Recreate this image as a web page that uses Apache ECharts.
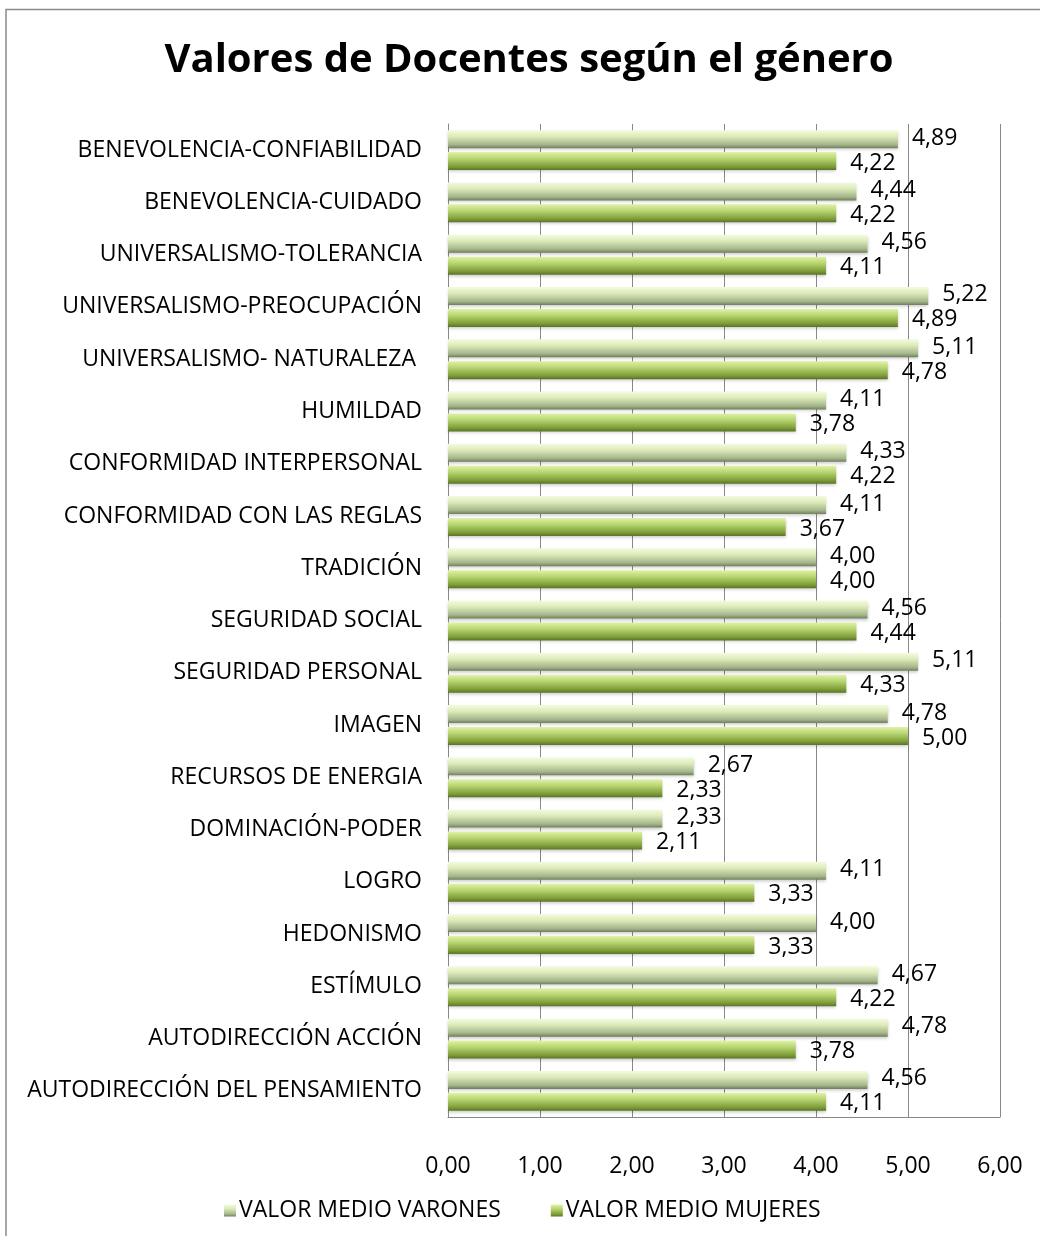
<!DOCTYPE html>
<html>
<head>
<meta charset="utf-8">
<script src="https://cdn.jsdelivr.net/npm/echarts@6/dist/echarts.min.js"></script>
<style>
  html, body { margin: 0; padding: 0; background: #fff; }
  #chart { width: 1040px; height: 1236px; }
</style>
</head>
<body>
<div id="chart"></div>
<script>
// categories top to bottom, as in the picture
const categories = [
  "BENEVOLENCIA-CONFIABILIDAD",
  "BENEVOLENCIA-CUIDADO",
  "UNIVERSALISMO-TOLERANCIA",
  "UNIVERSALISMO-PREOCUPACIÓN",
  "UNIVERSALISMO- NATURALEZA ",
  "HUMILDAD",
  "CONFORMIDAD INTERPERSONAL",
  "CONFORMIDAD CON LAS REGLAS",
  "TRADICIÓN",
  "SEGURIDAD SOCIAL",
  "SEGURIDAD PERSONAL",
  "IMAGEN",
  "RECURSOS DE ENERGIA",
  "DOMINACIÓN-PODER",
  "LOGRO",
  "HEDONISMO",
  "ESTÍMULO",
  "AUTODIRECCIÓN ACCIÓN",
  "AUTODIRECCIÓN DEL PENSAMIENTO"
];
const varones = [4.89, 4.44, 4.56, 5.22, 5.11, 4.11, 4.33, 4.11, 4.00, 4.56, 5.11, 4.78, 2.67, 2.33, 4.11, 4.00, 4.67, 4.78, 4.56];
const mujeres = [4.22, 4.22, 4.11, 4.89, 4.78, 3.78, 4.22, 3.67, 4.00, 4.44, 4.33, 5.00, 2.33, 2.11, 3.33, 3.33, 4.22, 3.78, 4.11];

const FONT = "Open Sans";
const SIZE = 23;
const fmt = v => v.toFixed(2).replace(".", ",");

const gradVarones = new echarts.graphic.LinearGradient(0, 0, 0, 1, [
  { offset: 0, color: "#f4fbe0" },
  { offset: 0.35, color: "#dcebb8" },
  { offset: 0.8, color: "#a6b68c" },
  { offset: 1, color: "#6f7f5c" }
]);
const gradMujeres = new echarts.graphic.LinearGradient(0, 0, 0, 1, [
  { offset: 0, color: "#e2f2a8" },
  { offset: 0.35, color: "#b8d672" },
  { offset: 0.8, color: "#7f9e3a" },
  { offset: 1, color: "#5a7424" }
]);

const chart = echarts.init(document.getElementById("chart"), null, { renderer: "canvas" });
chart.setOption({
  animation: false,
  textStyle: { fontFamily: FONT },
  title: {
    text: "Valores de Docentes según el género",
    left: 524, top: 36, textAlign: "center",
    textStyle: { fontFamily: FONT, fontWeight: "bold", fontSize: 40, color: "#000" }
  },
  graphic: [{
    type: "rect", silent: true,
    shape: { x: 6, y: 9.5, width: 1200, height: 1400 },
    style: { fill: "none", stroke: "#8a8a8a", lineWidth: 1.5 }
  }],
  legend: {
    top: 1194, left: 219,
    itemGap: 50, itemWidth: 12, itemHeight: 12,
    icon: "rect",
    data: ["VALOR MEDIO VARONES", "VALOR MEDIO MUJERES"],
    textStyle: { fontFamily: FONT, fontSize: SIZE, color: "#000", padding: [0, 0, 0, -2] }
  },
  grid: { left: 448, right: 40, top: 124, bottom: 119, containLabel: false },
  xAxis: {
    type: "value", min: 0, max: 6, interval: 1,
    axisLine: { show: true, lineStyle: { color: "#888" } },
    axisTick: { show: false },
    splitLine: { show: true, lineStyle: { color: "#888" } },
    axisLabel: { formatter: fmt, fontFamily: FONT, fontSize: SIZE, color: "#000", margin: 38 }
  },
  yAxis: {
    type: "category", inverse: true, data: categories,
    axisLine: { show: true, lineStyle: { color: "#888" } },
    axisTick: { show: false },
    axisLabel: { fontFamily: FONT, fontSize: SIZE, color: "#000", margin: 26 }
  },
  series: [
    {
      name: "VALOR MEDIO VARONES", type: "bar", data: varones,
      barWidth: 18, barGap: "22%",
      itemStyle: { color: gradVarones, shadowColor: "rgba(0,0,0,0.2)", shadowBlur: 3, shadowOffsetY: 2 },
      label: { show: true, position: "right", distance: 14, offset: [0, -1], formatter: p => fmt(p.value),
        fontFamily: FONT, fontSize: SIZE, color: "#000" }
    },
    {
      name: "VALOR MEDIO MUJERES", type: "bar", data: mujeres,
      barWidth: 18,
      itemStyle: { color: gradMujeres, shadowColor: "rgba(0,0,0,0.2)", shadowBlur: 3, shadowOffsetY: 2 },
      label: { show: true, position: "right", distance: 14, offset: [0, 2], formatter: p => fmt(p.value),
        fontFamily: FONT, fontSize: SIZE, color: "#000" }
    }
  ]
});
</script>
</body>
</html>
